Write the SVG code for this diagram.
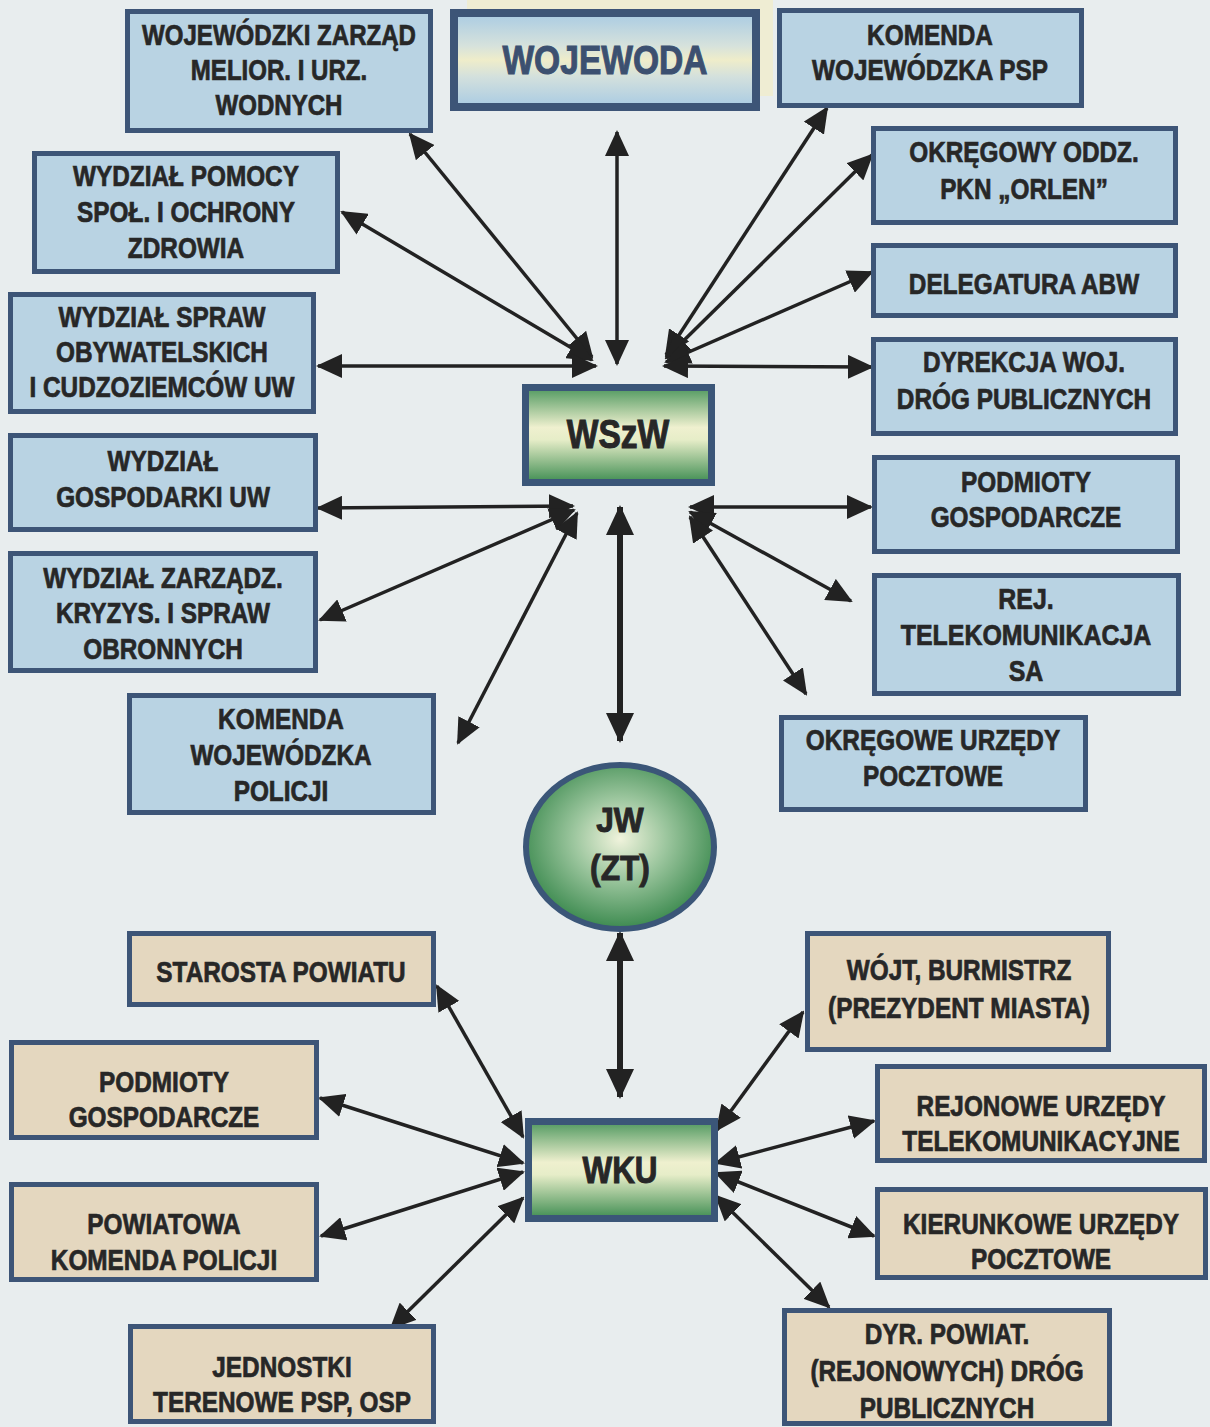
<svg xmlns="http://www.w3.org/2000/svg" width="1210" height="1427" viewBox="0 0 1210 1427">
<defs>
<style>
.bx{fill:#b9d3e3;stroke:#3d5577;stroke-width:5}
.bg{fill:#e4d7bf;stroke:#3d5577;stroke-width:5}
.t{font-family:"Liberation Sans",Arial,sans-serif;font-weight:bold;font-size:29px;fill:#272727;stroke:#272727;stroke-width:0.7px;text-anchor:middle}
.c{stroke:#222;stroke-width:3.5;fill:none;marker-start:url(#ah);marker-end:url(#ah)}
.cb{stroke:#222;stroke-width:6;fill:none;marker-start:url(#ahb);marker-end:url(#ahb)}
</style>
<marker id="ah" viewBox="0 0 26 24" markerWidth="26" markerHeight="24" refX="24" refY="12" orient="auto-start-reverse" markerUnits="userSpaceOnUse"><path d="M0,0 L26,12 L0,24 z" fill="#222"/></marker>
<marker id="ahb" viewBox="0 0 30 28" markerWidth="30" markerHeight="28" refX="28" refY="14" orient="auto-start-reverse" markerUnits="userSpaceOnUse"><path d="M0,0 L30,14 L0,28 z" fill="#222"/></marker>
<linearGradient id="gw" x1="0" y1="0" x2="0" y2="1">
<stop offset="0" stop-color="#a9cbe3"/><stop offset="0.35" stop-color="#d6e2dc"/><stop offset="0.5" stop-color="#efedca"/><stop offset="0.68" stop-color="#d3e0dd"/><stop offset="1" stop-color="#a9cbe3"/>
</linearGradient>
<linearGradient id="gg" x1="0" y1="0" x2="0" y2="1">
<stop offset="0" stop-color="#4f985f"/><stop offset="0.42" stop-color="#eff0cf"/><stop offset="0.55" stop-color="#e6edc8"/><stop offset="1" stop-color="#3f8d52"/>
</linearGradient>
<radialGradient id="gr" cx="0.5" cy="0.45" r="0.55">
<stop offset="0" stop-color="#f0f3dc"/><stop offset="0.45" stop-color="#9cc69e"/><stop offset="1" stop-color="#3c8a4f"/>
</radialGradient>
</defs>
<rect x="0" y="0" width="1210" height="1427" fill="#e8edee"/>
<rect x="467" y="0" width="306" height="96" fill="#efedd3"/>

<g id="connectors">
<line class="c" x1="410" y1="134" x2="592" y2="357"/>
<line class="c" x1="342" y1="212" x2="592" y2="360"/>
<line class="c" x1="318" y1="366" x2="596" y2="366"/>
<line class="c" x1="617" y1="132" x2="617" y2="364"/>
<line class="c" x1="827" y1="108" x2="666" y2="355"/>
<line class="c" x1="872" y1="155" x2="666" y2="358"/>
<line class="c" x1="872" y1="272" x2="666" y2="362"/>
<line class="c" x1="872" y1="367" x2="664" y2="366"/>
<line class="c" x1="318" y1="508" x2="573" y2="506"/>
<line class="c" x1="320" y1="620" x2="574" y2="510"/>
<line class="c" x1="458" y1="743" x2="577" y2="513"/>
<line class="cb" x1="620" y1="507" x2="620" y2="741"/>
<line class="c" x1="690" y1="507" x2="871" y2="507"/>
<line class="c" x1="690" y1="512" x2="851" y2="601"/>
<line class="c" x1="690" y1="517" x2="806" y2="694"/>
<line class="cb" x1="620" y1="933" x2="620" y2="1097"/>
<line class="c" x1="437" y1="986" x2="523" y2="1137"/>
<line class="c" x1="320" y1="1098" x2="523" y2="1163"/>
<line class="c" x1="321" y1="1236" x2="523" y2="1172"/>
<line class="c" x1="391" y1="1328" x2="523" y2="1198"/>
<line class="c" x1="803" y1="1012" x2="717" y2="1130"/>
<line class="c" x1="874" y1="1121" x2="716" y2="1163"/>
<line class="c" x1="874" y1="1236" x2="716" y2="1173"/>
<line class="c" x1="829" y1="1307" x2="716" y2="1196"/>
</g>

<g id="n-wzmiuw"><rect class="bx" x="127.5" y="11.5" width="303" height="119"/>
<text class="t" transform="translate(279 0) scale(0.83 1)"><tspan x="0" y="45">WOJEWÓDZKI ZARZĄD</tspan><tspan x="0" y="80">MELIOR. I URZ.</tspan><tspan x="0" y="115">WODNYCH</tspan></text></g>

<g id="n-wojewoda"><rect x="454" y="13" width="302" height="94" fill="url(#gw)" stroke="#3d5577" stroke-width="8"/>
<text class="t" style="font-size:40px;fill:#3c5070;stroke:#3c5070;stroke-width:1px" transform="translate(605 0) scale(0.84 1)"><tspan x="0" y="74">WOJEWODA</tspan></text></g>

<g id="n-kwpsp"><rect class="bx" x="779.5" y="10.5" width="302" height="95"/>
<text class="t" transform="translate(930 0) scale(0.84 1)"><tspan x="0" y="45">KOMENDA</tspan><tspan x="0" y="80">WOJEWÓDZKA PSP</tspan></text></g>

<g id="n-pomocy"><rect class="bx" x="34.5" y="153.5" width="303" height="118"/>
<text class="t" transform="translate(186 0) scale(0.84 1)"><tspan x="0" y="186">WYDZIAŁ POMOCY</tspan><tspan x="0" y="222">SPOŁ. I OCHRONY</tspan><tspan x="0" y="258">ZDROWIA</tspan></text></g>

<g id="n-orlen"><rect class="bx" x="873.5" y="128.5" width="302" height="94"/>
<text class="t" transform="translate(1024 0) scale(0.84 1)"><tspan x="0" y="162">OKRĘGOWY ODDZ.</tspan><tspan x="0" y="199">PKN „ORLEN”</tspan></text></g>

<g id="n-abw"><rect class="bx" x="873.5" y="245.5" width="302" height="70"/>
<text class="t" transform="translate(1024 0) scale(0.84 1)"><tspan x="0" y="294">DELEGATURA ABW</tspan></text></g>

<g id="n-spraw"><rect class="bx" x="10.5" y="294.5" width="303" height="117"/>
<text class="t" transform="translate(162 0) scale(0.84 1)"><tspan x="0" y="327">WYDZIAŁ SPRAW</tspan><tspan x="0" y="362">OBYWATELSKICH</tspan><tspan x="0" y="397">I CUDZOZIEMCÓW UW</tspan></text></g>

<g id="n-dyrekcja"><rect class="bx" x="873.5" y="339.5" width="302" height="94"/>
<text class="t" transform="translate(1024 0) scale(0.84 1)"><tspan x="0" y="372">DYREKCJA WOJ.</tspan><tspan x="0" y="409">DRÓG PUBLICZNYCH</tspan></text></g>

<g id="n-wszw"><rect x="525.5" y="387.5" width="186" height="95" fill="url(#gg)" stroke="#3b5678" stroke-width="7"/>
<text class="t" style="font-size:40px;stroke-width:1px" transform="translate(618 0) scale(0.84 1)"><tspan x="0" y="448">WSzW</tspan></text></g>

<g id="n-gospodarki"><rect class="bx" x="10.5" y="435.5" width="305" height="94"/>
<text class="t" transform="translate(163 0) scale(0.84 1)"><tspan x="0" y="471">WYDZIAŁ</tspan><tspan x="0" y="507">GOSPODARKI UW</tspan></text></g>

<g id="n-podmioty-r"><rect class="bx" x="874.5" y="457.5" width="303" height="94"/>
<text class="t" transform="translate(1026 0) scale(0.84 1)"><tspan x="0" y="492">PODMIOTY</tspan><tspan x="0" y="527">GOSPODARCZE</tspan></text></g>

<g id="n-zarzadz"><rect class="bx" x="10.5" y="553.5" width="305" height="117"/>
<text class="t" transform="translate(163 0) scale(0.84 1)"><tspan x="0" y="588">WYDZIAŁ ZARZĄDZ.</tspan><tspan x="0" y="623">KRYZYS. I SPRAW</tspan><tspan x="0" y="659">OBRONNYCH</tspan></text></g>

<g id="n-rej"><rect class="bx" x="874.5" y="575.5" width="304" height="118"/>
<text class="t" transform="translate(1026 0) scale(0.86 1)"><tspan x="0" y="609">REJ.</tspan><tspan x="0" y="645">TELEKOMUNIKACJA</tspan><tspan x="0" y="681">SA</tspan></text></g>

<g id="n-policji"><rect class="bx" x="129.5" y="695.5" width="304" height="117"/>
<text class="t" transform="translate(281 0) scale(0.84 1)"><tspan x="0" y="729">KOMENDA</tspan><tspan x="0" y="765">WOJEWÓDZKA</tspan><tspan x="0" y="801">POLICJI</tspan></text></g>

<g id="n-poczta"><rect class="bx" x="781.5" y="717.5" width="304" height="92"/>
<text class="t" transform="translate(933 0) scale(0.84 1)"><tspan x="0" y="750">OKRĘGOWE URZĘDY</tspan><tspan x="0" y="786">POCZTOWE</tspan></text></g>

<g id="n-jw"><ellipse cx="620" cy="847" rx="94" ry="82" fill="url(#gr)" stroke="#3b5678" stroke-width="6"/>
<text class="t" style="font-size:36px;stroke-width:1px" transform="translate(620 0) scale(0.88 1)"><tspan x="0" y="832">JW</tspan><tspan x="0" y="880">(ZT)</tspan></text></g>

<g id="n-starosta"><rect class="bg" x="129.5" y="933.5" width="304" height="71"/>
<text class="t" transform="translate(281 0) scale(0.84 1)"><tspan x="0" y="982">STAROSTA POWIATU</tspan></text></g>

<g id="n-wojt"><rect class="bg" x="807.5" y="933.5" width="301" height="116"/>
<text class="t" transform="translate(959 0) scale(0.84 1)"><tspan x="0" y="980">WÓJT, BURMISTRZ</tspan><tspan x="0" y="1018">(PREZYDENT MIASTA)</tspan></text></g>

<g id="n-podmioty-l"><rect class="bg" x="11.5" y="1042.5" width="305" height="95"/>
<text class="t" transform="translate(164 0) scale(0.84 1)"><tspan x="0" y="1092">PODMIOTY</tspan><tspan x="0" y="1127">GOSPODARCZE</tspan></text></g>

<g id="n-rejonowe"><rect class="bg" x="877.5" y="1066.5" width="327" height="94"/>
<text class="t" transform="translate(1041 0) scale(0.84 1)"><tspan x="0" y="1116">REJONOWE URZĘDY</tspan><tspan x="0" y="1151">TELEKOMUNIKACYJNE</tspan></text></g>

<g id="n-wku"><rect x="528.5" y="1121.5" width="186" height="97" fill="url(#gg)" stroke="#3b5678" stroke-width="7"/>
<text class="t" style="font-size:37px;stroke-width:1px" transform="translate(620 0) scale(0.85 1)"><tspan x="0" y="1183">WKU</tspan></text></g>

<g id="n-powiatowa"><rect class="bg" x="11.5" y="1184.5" width="305" height="95"/>
<text class="t" transform="translate(164 0) scale(0.84 1)"><tspan x="0" y="1234">POWIATOWA</tspan><tspan x="0" y="1270">KOMENDA POLICJI</tspan></text></g>

<g id="n-kierunkowe"><rect class="bg" x="877.5" y="1189.5" width="328" height="88"/>
<text class="t" transform="translate(1041 0) scale(0.84 1)"><tspan x="0" y="1234">KIERUNKOWE URZĘDY</tspan><tspan x="0" y="1269">POCZTOWE</tspan></text></g>

<g id="n-jednostki"><rect class="bg" x="130.5" y="1326.5" width="303" height="95"/>
<text class="t" transform="translate(282 0) scale(0.84 1)"><tspan x="0" y="1377">JEDNOSTKI</tspan><tspan x="0" y="1412">TERENOWE PSP, OSP</tspan></text></g>

<g id="n-dyr"><rect class="bg" x="784.5" y="1310.5" width="325" height="113"/>
<text class="t" transform="translate(947 0) scale(0.84 1)"><tspan x="0" y="1344">DYR. POWIAT.</tspan><tspan x="0" y="1381">(REJONOWYCH) DRÓG</tspan><tspan x="0" y="1418">PUBLICZNYCH</tspan></text></g>
</svg>
